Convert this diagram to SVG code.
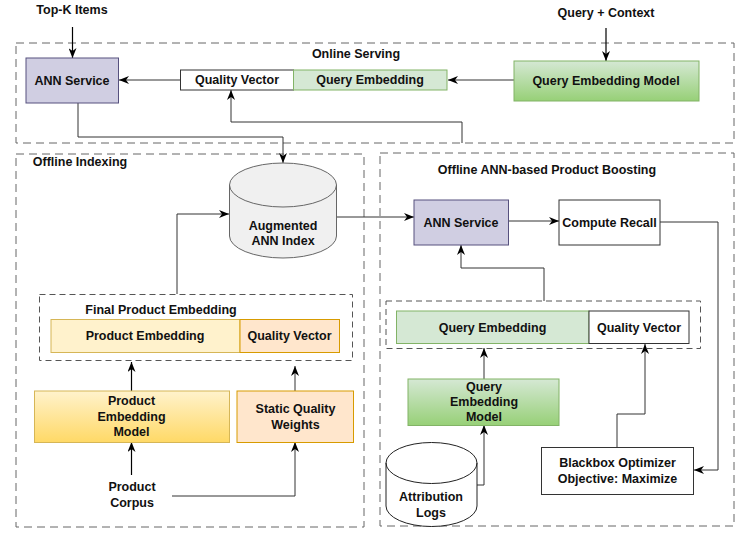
<svg xmlns="http://www.w3.org/2000/svg" width="746" height="543" viewBox="0 0 746 543">
<defs>
<style>
text{font-family:"Liberation Sans",Arial,sans-serif;font-weight:bold;font-size:12.5px;fill:#111;text-anchor:middle;dominant-baseline:central}
.sec{fill:none;stroke:#666;stroke-width:1;stroke-dasharray:8 5}
.grp{fill:none;stroke:#555;stroke-width:1;stroke-dasharray:6 4}
.edge{fill:none;stroke:#333;stroke-width:1}
.edgek{fill:none;stroke:#000;stroke-width:1.2}
.ann{fill:#d0cee2;stroke:#56517e;stroke-width:1}
.white{fill:#fff;stroke:#333;stroke-width:1}
.qe{fill:#d5e8d4;stroke:#82b366;stroke-width:1}
.pe{fill:#fff2cc;stroke:#d6b656;stroke-width:1}
.qv{fill:#ffe6cc;stroke:#d79b00;stroke-width:1}
</style>
<marker id="arr" viewBox="0 0 10 8" refX="10" refY="4" markerWidth="10" markerHeight="8" orient="auto" markerUnits="userSpaceOnUse">
<path d="M0,0 L10,4 L0,8 L3,4 z" fill="#000"/>
</marker>
<linearGradient id="gGreen" x1="0" y1="0" x2="0" y2="1"><stop offset="0" stop-color="#d5e8d4"/><stop offset="1" stop-color="#97d077"/></linearGradient>
<linearGradient id="gYellow" x1="0" y1="0" x2="0" y2="1"><stop offset="0" stop-color="#fff2cc"/><stop offset="1" stop-color="#ffd966"/></linearGradient>
</defs>

<g id="sections">
<rect class="sec" x="16" y="43" width="718" height="100"/>
<text x="356" y="54">Online Serving</text>
<rect class="sec" x="16" y="154" width="348" height="373"/>
<text x="80" y="162">Offline Indexing</text>
<rect class="sec" x="380" y="153" width="354" height="373"/>
<text x="547" y="170">Offline ANN-based Product Boosting</text>
</g>

<g id="edges">
<path class="edgek" d="M72.5,27 V58" marker-end="url(#arr)"/>
<path class="edgek" d="M606,28 V61" marker-end="url(#arr)"/>
<path class="edge" d="M180,80 H119" marker-end="url(#arr)"/>
<path class="edge" d="M514,80 H448" marker-end="url(#arr)"/>
<path class="edge" d="M462,143 V122 H231 V90" marker-end="url(#arr)"/>
<path class="edge" d="M78,103 V137 H283 V163" marker-end="url(#arr)"/>
<path class="edge" d="M177,294 V214 H229" marker-end="url(#arr)"/>
<path class="edge" d="M337,217 H414" marker-end="url(#arr)"/>
<path class="edge" d="M508,221 H559" marker-end="url(#arr)"/>
<path class="edge" d="M660,222 H718 V470 H694" marker-end="url(#arr)"/>
<path class="edge" d="M617,447 V414 H645 V344" marker-end="url(#arr)"/>
<path class="edge" d="M544,301 V268 H461 V245" marker-end="url(#arr)"/>
<path class="edge" d="M484,379 V348" marker-end="url(#arr)"/>
<path class="edge" d="M477,485 H484 V425" marker-end="url(#arr)"/>
<path class="edgek" d="M131.5,391 V362" marker-end="url(#arr)"/>
<path class="edge" d="M295,391 V366" marker-end="url(#arr)"/>
<path class="edgek" d="M131.5,475 V442" marker-end="url(#arr)"/>
<path class="edge" d="M172,496 H295 V442" marker-end="url(#arr)"/>
</g>

<g id="topk"><text x="72" y="10">Top-K Items</text></g>
<g id="query-context"><text x="606" y="13">Query + Context</text></g>

<g id="ann-online">
<rect class="ann" x="26" y="58" width="92.5" height="45"/>
<text x="72" y="80.5">ANN Service</text>
</g>
<g id="qv-online">
<rect class="white" x="180.5" y="70" width="113" height="20"/>
<text x="237" y="80">Quality Vector</text>
</g>
<g id="qe-online">
<rect class="qe" x="293.5" y="70" width="153.5" height="20"/>
<text x="370" y="80">Query Embedding</text>
</g>
<g id="qem-online">
<rect x="514" y="61" width="185" height="40" fill="url(#gGreen)" stroke="#82b366"/>
<text x="606" y="80.5">Query Embedding Model</text>
</g>

<g id="ann-index">
<path d="M229.5,185 A53.5,22 0 0 1 336.5,185 V236 A53.5,22 0 0 1 229.5,236 Z" fill="#f0f0f0" stroke="#666"/>
<path d="M229.5,185 A53.5,22 0 0 0 336.5,185" fill="none" stroke="#666"/>
<text x="283" y="225.5">Augmented</text>
<text x="283" y="241">ANN Index</text>
</g>

<g id="final-product-embedding">
<rect class="grp" x="39.5" y="294.5" width="313" height="66"/>
<text x="161" y="310">Final Product Embedding</text>
</g>
<g id="pe">
<rect class="pe" x="51" y="319.5" width="189" height="33"/>
<text x="145" y="335.5">Product Embedding</text>
</g>
<g id="qv-product">
<rect class="qv" x="240" y="319.5" width="99.5" height="33"/>
<text x="289.5" y="335.5">Quality Vector</text>
</g>
<g id="pem">
<rect x="34.5" y="391" width="195" height="51.5" fill="url(#gYellow)" stroke="#d6b656"/>
<text x="131.5" y="401">Product</text>
<text x="131.5" y="416.5">Embedding</text>
<text x="131.5" y="431.5">Model</text>
</g>
<g id="sqw">
<rect class="qv" x="237" y="391" width="116.5" height="51.5"/>
<text x="295.5" y="409">Static Quality</text>
<text x="295.5" y="424.5">Weights</text>
</g>
<g id="product-corpus">
<text x="132" y="487">Product</text>
<text x="132" y="503">Corpus</text>
</g>

<g id="ann-offline">
<rect class="ann" x="414" y="200" width="94.5" height="45"/>
<text x="461" y="222.5">ANN Service</text>
</g>
<g id="compute-recall">
<rect class="white" x="559" y="200" width="101" height="45"/>
<text x="609.5" y="222.5">Compute Recall</text>
</g>
<g id="query-group">
<rect class="grp" x="386" y="301" width="314.5" height="47.5"/>
</g>
<g id="qe-offline">
<rect class="qe" x="396.5" y="311" width="192.5" height="32.5"/>
<text x="492.5" y="327.5">Query Embedding</text>
</g>
<g id="qv-offline">
<rect class="white" x="589" y="311" width="100" height="32.5"/>
<text x="639" y="327.5">Quality Vector</text>
</g>
<g id="qem-offline">
<rect x="408" y="379" width="151" height="46.5" fill="url(#gGreen)" stroke="#82b366"/>
<text x="484" y="386.5">Query</text>
<text x="484" y="402">Embedding</text>
<text x="484" y="417">Model</text>
</g>
<g id="attribution-logs">
<path d="M386,463 A45.5,20.5 0 0 1 477,463 V506 A45.5,20.5 0 0 1 386,506 Z" fill="#fff" stroke="#222"/>
<path d="M386,463 A45.5,20.5 0 0 0 477,463" fill="none" stroke="#222"/>
<text x="431" y="496.5">Attribution</text>
<text x="431" y="512.5">Logs</text>
</g>
<g id="blackbox">
<rect class="white" x="541.5" y="447.5" width="152" height="47"/>
<text x="617.5" y="463">Blackbox Optimizer</text>
<text x="617.5" y="479">Objective: Maximize</text>
</g>
</svg>
